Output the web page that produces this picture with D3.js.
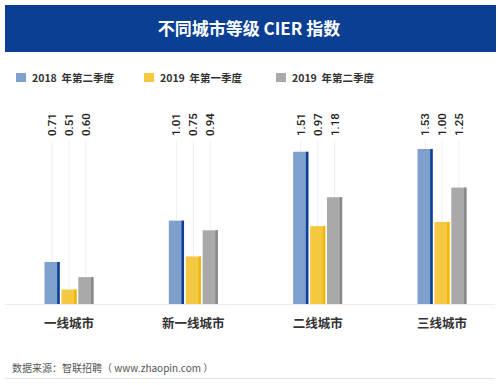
<!DOCTYPE html>
<html>
<head>
<meta charset="utf-8">
<script src="https://cdn.jsdelivr.net/npm/d3@7"></script>
<style>
  body { margin: 0; background: #fff; }
  svg { display: block; font-family: "Noto Sans CJK SC", "Noto Sans", sans-serif; }
</style>
</head>
<body>
<div id="chart"></div>
<script>
const categories = ['一线城市', '新一线城市', '二线城市', '三线城市']
const series = ['2018  年第二季度', '2019  年第一季度', '2019  年第二季度']
const q2_2018 = [0.71, 1.01, 1.51, 1.53]
const q1_2019 = [0.51, 0.75, 0.97, 1.00]
const q2_2019 = [0.60, 0.94, 1.18, 1.25]

const w = 500
const h = 385
const base = 304

const fills = ['#7f9fcc', '#f5c842', '#a9a9a9']
const edges = ['#0a3f93', '#efb80c', '#8a8a8a']

const values = [q2_2018, q1_2019, q2_2019]

const svg = d3.select('#chart')
    .append('svg')
    .attr('width', w)
    .attr('height', h)

// header
svg.append('rect')
    .attr('x', 5).attr('y', 5)
    .attr('width', 491).attr('height', 47)
    .attr('fill', '#0a3f93')

svg.append('text')
    .attr('x', 249).attr('y', 35)
    .attr('text-anchor', 'middle')
    .attr('fill', '#fff')
    .attr('font-size', 17)
    .attr('font-weight', 'bold')
    .text('不同城市等级 CIER 指数')

// legend
const legendX = [16, 144, 276]
const legend = svg.selectAll('.legend')
    .data(series)
    .enter()
    .append('g')
    .attr('class', 'legend')
    .attr('transform', (d, i) => 'translate(' + legendX[i] + ',73)')

legend.append('rect')
    .attr('width', 10).attr('height', 9)
    .attr('fill', (d, i) => fills[i])

legend.append('text')
    .attr('x', 16).attr('y', 9)
    .attr('font-size', 10.5)
    .attr('font-weight', 'bold')
    .attr('fill', '#333')
    .attr('xml:space', 'preserve')
    .text(d => d)

// scales
const x0 = d3.scalePoint()
    .domain(categories)
    .range([69, 442])

const x1 = d3.scaleBand()
    .domain(series)
    .range([-24.5, 24.5])
    .paddingInner(0.1)

// the original chart does not start at zero
const yScale = d3.scaleLinear()
    .domain([0.405, 1.53])
    .range([base, 149])

// baseline
svg.append('line')
    .attr('x1', 5).attr('x2', 495)
    .attr('y1', base + 0.5).attr('y2', base + 0.5)
    .attr('stroke', '#ececec')

// bars
const bw = x1.bandwidth()
series.forEach((s, si) => {
    const g = svg.append('g')
    const rows = categories.map((c, i) => ({ c: c, v: values[si][i] }))

    // leader lines
    g.selectAll('line')
        .data(rows)
        .enter()
        .append('line')
        .attr('x1', d => x0(d.c) + x1(s) + bw / 2)
        .attr('x2', d => x0(d.c) + x1(s) + bw / 2)
        .attr('y1', 141)
        .attr('y2', d => yScale(d.v))
        .attr('stroke', '#efefef')

    g.selectAll('rect.bar')
        .data(rows)
        .enter()
        .append('rect')
        .attr('class', 'bar')
        .attr('x', d => x0(d.c) + x1(s))
        .attr('y', d => yScale(d.v))
        .attr('width', bw)
        .attr('height', d => base - yScale(d.v))
        .attr('fill', fills[si])

    g.selectAll('rect.edge')
        .data(rows)
        .enter()
        .append('rect')
        .attr('class', 'edge')
        .attr('x', d => x0(d.c) + x1(s) + bw - 2.5)
        .attr('y', d => yScale(d.v))
        .attr('width', 2.5)
        .attr('height', d => base - yScale(d.v))
        .attr('fill', edges[si])

    // value labels
    g.selectAll('text')
        .data(rows)
        .enter()
        .append('text')
        .attr('transform', d => 'translate(' + (x0(d.c) + x1(s) + bw / 2 + 4) + ',136) rotate(-90)')
        .attr('font-family', 'Roboto, sans-serif')
        .attr('font-size', 11.5)
        .attr('font-weight', 500)
        .attr('fill', '#222')
        .text(d => d.v.toFixed(2))
})

// category labels
svg.selectAll('.cat')
    .data(categories)
    .enter()
    .append('text')
    .attr('class', 'cat')
    .attr('x', d => x0(d))
    .attr('y', 328)
    .attr('text-anchor', 'middle')
    .attr('font-size', 12.5)
    .attr('font-weight', 'bold')
    .attr('fill', '#333')
    .text(d => d)

// source
svg.append('text')
    .attr('x', 12).attr('y', 372)
    .attr('font-size', 10)
    .attr('fill', '#555')
    .text('数据来源：智联招聘（ www.zhaopin.com ）')

svg.append('line')
    .attr('x1', 5).attr('x2', 495)
    .attr('y1', 378.5).attr('y2', 378.5)
    .attr('stroke', '#e3e3e3')
</script>
</body>
</html>
